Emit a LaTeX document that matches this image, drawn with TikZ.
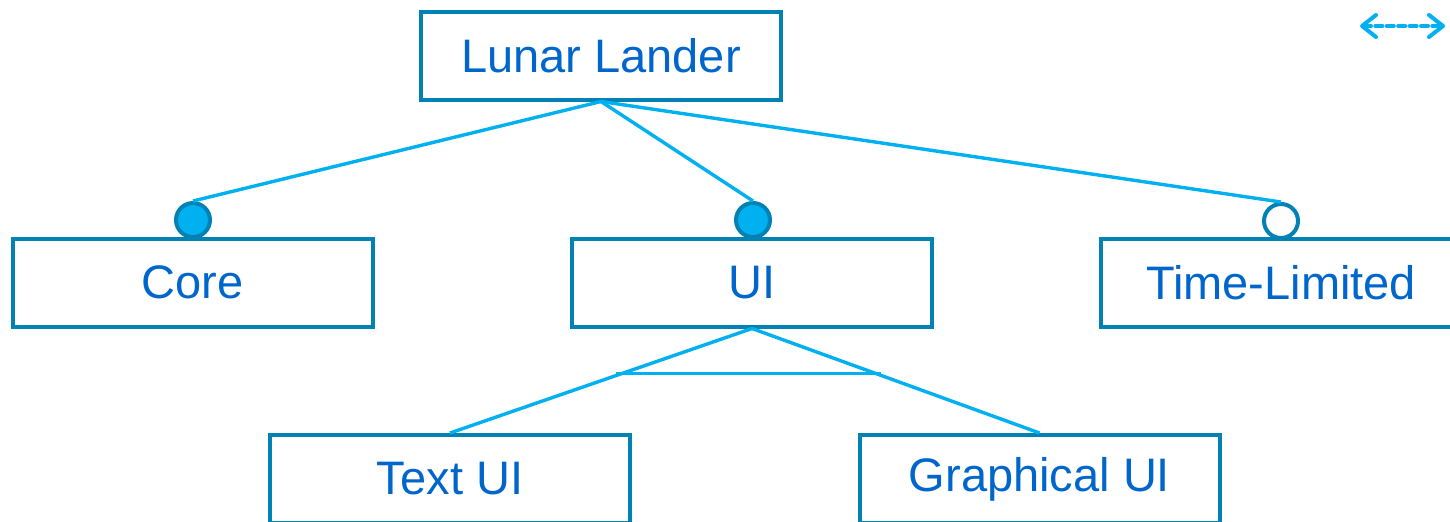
\documentclass[tikz,border=0pt]{standalone}
\usepackage{fontspec}
\setmainfont{Liberation Sans}
\usetikzlibrary{arrows.meta,calc}
\definecolor{boxline}{RGB}{0,130,180}
\definecolor{conncol}{RGB}{0,176,240}
\definecolor{txtcol}{RGB}{0,102,204}
\tikzset{
  feat/.style={draw=boxline, line width=2pt, fill=white, inner sep=0pt,
    minimum width=180pt, minimum height=44pt, text=txtcol,
    font=\fontsize{23.5}{28}\selectfont},
  conn/.style={draw=conncol, line width=1.7pt},
  mand/.style={circle, draw=boxline, fill=conncol, line width=2pt, minimum size=17pt, inner sep=0pt},
  opt/.style={circle, draw=boxline, fill=white, line width=2pt, minimum size=17pt, inner sep=0pt},
  legbarb/.style={draw=conncol, line width=2pt, line cap=round, dash pattern=on 3.5pt off 2.2pt},
}
\begin{document}
\begin{tikzpicture}[x=0.5pt,y=-0.5pt]
\useasboundingbox (0,0) rectangle (1450,521);
\clip (0,0) rectangle (1450,521);
\fill[white] (0,0) rectangle (1450,521);
% feature boxes
\node[feat] (lander) at (601,55.5) {Lunar Lander};
\node[feat] (core) at (192.5,282.5) {Core};
\node[feat] (ui) at (752,282.5) {UI};
\node[feat] (time) at (1281,282.5) {Time-Limited};
\node[feat] (tui) at (450,479) {Text UI};
\node[feat] (gui) at (1039.5,479) {Graphical UI};
% markers
\node[mand] (mcore) at (193,220) {};
\node[mand] (mui) at (753,220) {};
\node[opt] (mtime) at (1281,221) {};
% connectors
\draw[conn] (lander.south) -- (mcore.north);
\draw[conn] (lander.south) -- (mui.north);
\draw[conn] (lander.south) -- (mtime.north);
\draw[conn] (ui.south) -- (tui.north) coordinate[pos=0.43] (a1);
\draw[conn] (ui.south) -- (gui.north) coordinate[pos=0.43] (a2);
\draw[conn] ($(a1)+(-6,0)$) -- ($(a2)+(5,0)$);
% legend arrow
\coordinate (l1) at (1360,26);
\coordinate (l2) at (1445,26);
\draw[legbarb, {Straight Barb[length=7pt,width=11pt,line cap=round,line join=round]}-{Straight Barb[length=7pt,width=11pt,line cap=round,line join=round]}] (l1) -- (l2);
\end{tikzpicture}
\end{document}
